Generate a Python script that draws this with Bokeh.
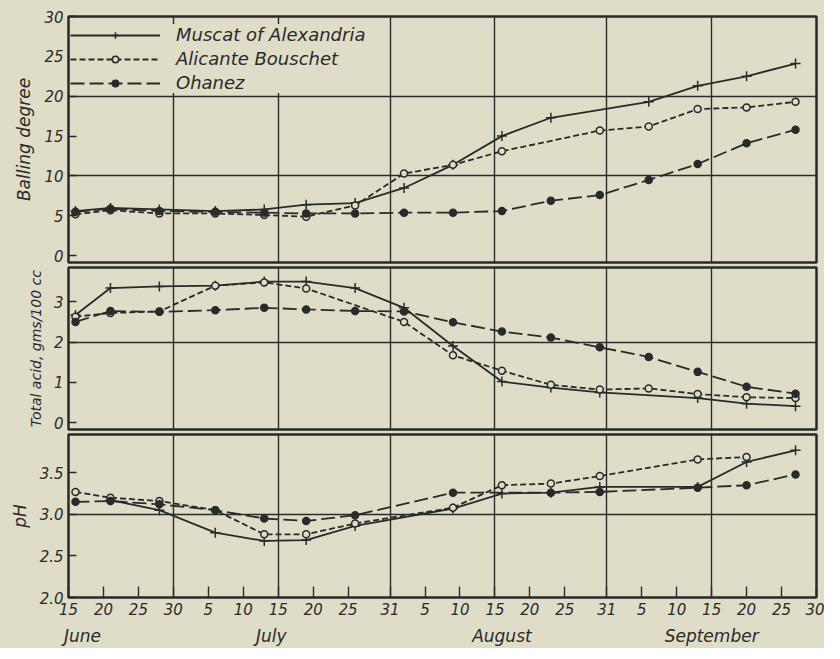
import pandas as pd
from bokeh.plotting import figure
from bokeh.layouts import column
from bokeh.models import (Range1d, FixedTicker, LinearAxis, Legend, LegendItem)
from bokeh.embed import file_html
from bokeh.resources import INLINE

# ---------------- data ----------------
year = 1931
start_date = "06-15"
end_date = "09-30"
sample_dates = ["06-16", "06-21", "06-28", "07-06", "07-13", "07-19", "07-26", "08-02",
                "08-09", "08-16", "08-23", "08-30", "09-06", "09-13", "09-20", "09-27"]

series_names = ["Muscat of Alexandria", "Alicante Bouschet", "Ohanez"]

muscat_balling = [5.6, 6.0, 5.8, 5.6, 5.8, 6.4, 6.6, 8.5, 11.4, 15.0, 17.3, None, 19.3, 21.3, 22.5, 24.1]
alicante_balling = [5.2, 5.7, 5.3, 5.3, 5.1, 4.9, 6.3, 10.3, 11.4, 13.1, None, 15.7, 16.2, 18.4, 18.6, 19.3]
ohanez_balling = [5.5, 5.9, 5.6, 5.5, 5.4, 5.3, 5.3, 5.4, 5.4, 5.6, 6.9, 7.6, 9.5, 11.5, 14.1, 15.8]

muscat_acid = [2.67, 3.34, 3.38, 3.40, 3.50, 3.50, 3.34, 2.85, 1.90, 1.02, 0.87, 0.75, None, 0.61, 0.47, 0.41]
alicante_acid = [2.63, 2.72, 2.76, 3.40, 3.48, 3.33, None, 2.50, 1.67, 1.29, 0.94, 0.82, 0.85, 0.71, 0.63, 0.61]
ohanez_acid = [2.50, 2.77, 2.75, 2.79, 2.85, 2.81, 2.77, 2.76, 2.49, 2.26, 2.11, 1.87, 1.63, 1.26, 0.89, 0.72]

muscat_ph = [None, 3.17, 3.05, 2.78, 2.68, 2.69, 2.86, None, 3.07, 3.25, 3.26, 3.33, None, 3.33, 3.63, 3.77]
alicante_ph = [3.27, 3.20, 3.16, 3.05, 2.76, 2.76, 2.89, None, 3.08, 3.35, 3.37, 3.46, None, 3.66, 3.69, None]
ohanez_ph = [3.15, 3.16, 3.12, 3.05, 2.95, 2.92, 2.99, None, 3.26, None, 3.26, 3.27, None, 3.32, 3.35, 3.48]

tick_dates = ["06-15", "06-20", "06-25", "06-30", "07-05", "07-10", "07-15", "07-20", "07-25", "07-31",
              "08-05", "08-10", "08-15", "08-20", "08-25", "08-31", "09-05", "09-10", "09-15", "09-20",
              "09-25", "09-30"]
grid_dates = ["06-30", "07-15", "07-31", "08-15", "08-31", "09-15"]
month_names = ["June", "July", "August", "September"]
month_label_dates = ["06-17", "07-14", "08-16", "09-15"]

balling_ticks = [0, 5, 10, 15, 20, 25, 30]
balling_grid = [10, 20]
acid_ticks = [0, 1, 2, 3]
acid_grid = [2]
ph_ticks = [2.0, 2.5, 3.0, 3.5]
ph_grid = [3.0]
ph_labels = ["2.0", "2.5", "3.0", "3.5"]

# ---------------- helpers ----------------
base = pd.Timestamp(f"{year}-{start_date}")


def day(d):
    return float((pd.Timestamp(f"{year}-{d}") - base).days)


x_days = [day(d) for d in sample_dates]
x_end = day(end_date)

PAPER = "#dfdcc8"
INK = "#2a2a2a"
FONT = "DejaVu Sans"

FRAME_W = 748
BORDER_L = 68
BORDER_R = 8

x_range = Range1d(0, x_end)

styles = [
    dict(dash="solid", marker="cross", fill=INK, size=10),
    dict(dash="6 3", marker="circle", fill=PAPER, size=7),
    dict(dash="14 5", marker="circle", fill=INK, size=7),
]


def make_panel(y_start, y_end, ticks, grid, label, frame_h, top, bottom, label_size="17px", overrides=None):
    p = figure(output_backend="svg", toolbar_location=None, x_range=x_range,
               y_range=Range1d(y_start, y_end), frame_width=FRAME_W, frame_height=frame_h,
               min_border_left=BORDER_L, min_border_right=BORDER_R,
               min_border_top=top, min_border_bottom=bottom,
               background_fill_color=PAPER, border_fill_color=PAPER)
    p.outline_line_color = INK
    p.outline_line_width = 2.5
    p.outline_line_alpha = 1
    p.xgrid.ticker = FixedTicker(ticks=[day(d) for d in grid_dates])
    p.ygrid.ticker = FixedTicker(ticks=grid)
    for g in (p.xgrid, p.ygrid):
        g.grid_line_color = INK
        g.grid_line_width = 1.4
        g.grid_line_alpha = 1
    ax = p.yaxis[0]
    ax.ticker = FixedTicker(ticks=ticks)
    if overrides:
        ax.major_label_overrides = overrides
    ax.axis_line_color = None
    ax.major_tick_in = 8
    ax.major_tick_out = 0
    ax.major_tick_line_color = INK
    ax.major_tick_line_width = 1.4
    ax.minor_tick_line_color = None
    ax.major_label_text_font = FONT
    ax.major_label_text_font_style = "italic"
    ax.major_label_text_font_size = "15px"
    ax.major_label_text_color = INK
    ax.major_label_standoff = 5
    ax.axis_label = label
    ax.axis_label_text_font = FONT
    ax.axis_label_text_font_style = "italic"
    ax.axis_label_text_font_size = label_size
    ax.axis_label_text_color = INK
    ax.axis_label_standoff = 7
    return p


def draw(p, values_list):
    rends = []
    for vals, st in zip(values_list, styles):
        xs = [x for x, v in zip(x_days, vals) if v is not None]
        ys = [v for v in vals if v is not None]
        ln = p.line(xs, ys, line_color=INK, line_width=1.8, line_dash=st["dash"])
        sc = p.scatter(xs, ys, marker=st["marker"], size=st["size"], line_color=INK,
                       line_width=1.5, fill_color=st["fill"])
        rends.append((ln, sc))
    return rends


# top panel
TOP_H = 246
p1 = make_panel(-0.85, 30, balling_ticks, balling_grid, "Balling degree", TOP_H, 16, 3)
p1.xaxis.visible = False
r1 = draw(p1, [muscat_balling, alicante_balling, ohanez_balling])
legend = Legend(items=[LegendItem(label=n, renderers=[a, b]) for n, (a, b) in zip(series_names, r1)],
                location=(2, TOP_H - 15 - 62), glyph_width=90, glyph_height=16, label_height=16,
                spacing=3, padding=4, margin=0, label_standoff=16,
                background_fill_color=PAPER, background_fill_alpha=1, border_line_color=None,
                label_text_font=FONT, label_text_font_style="italic", label_text_font_size="18px",
                label_text_color=INK)
p1.add_layout(legend, "center")

# middle panel
p2 = make_panel(-0.17, 3.85, acid_ticks, acid_grid, "Total acid, gms/100 cc", 162, 2, 3, label_size="14px")
p2.xaxis.visible = False
draw(p2, [muscat_acid, alicante_acid, ohanez_acid])

# bottom panel
p3 = make_panel(2.0, 3.96, ph_ticks, ph_grid, "pH", 163, 2, 4,
                overrides={t: s for t, s in zip(ph_ticks, ph_labels)})
draw(p3, [muscat_ph, alicante_ph, ohanez_ph])

xa = p3.xaxis[0]
xa.ticker = FixedTicker(ticks=[day(d) for d in tick_dates])
xa.major_label_overrides = {day(d): str(int(d.split("-")[1])) for d in tick_dates}
xa.axis_line_color = None
xa.major_tick_in = 11
xa.major_tick_out = 0
xa.major_tick_line_color = INK
xa.major_tick_line_width = 1.4
xa.minor_tick_line_color = None
xa.major_label_text_font = FONT
xa.major_label_text_font_style = "italic"
xa.major_label_text_font_size = "15px"
xa.major_label_text_color = INK
xa.major_label_standoff = 5

ma = LinearAxis(ticker=FixedTicker(ticks=[day(d) for d in month_label_dates]),
                major_label_overrides={day(d): m for d, m in zip(month_label_dates, month_names)})
ma.axis_line_color = None
ma.major_tick_line_color = None
ma.minor_tick_line_color = None
ma.major_label_text_font = FONT
ma.major_label_text_font_style = "italic"
ma.major_label_text_font_size = "17px"
ma.major_label_text_color = INK
ma.major_label_standoff = 2
p3.add_layout(ma, "below")

layout = column(p1, p2, p3, spacing=0, styles={"background-color": PAPER})

with open("out.html", "w") as f:
    f.write(file_html(layout, INLINE))
